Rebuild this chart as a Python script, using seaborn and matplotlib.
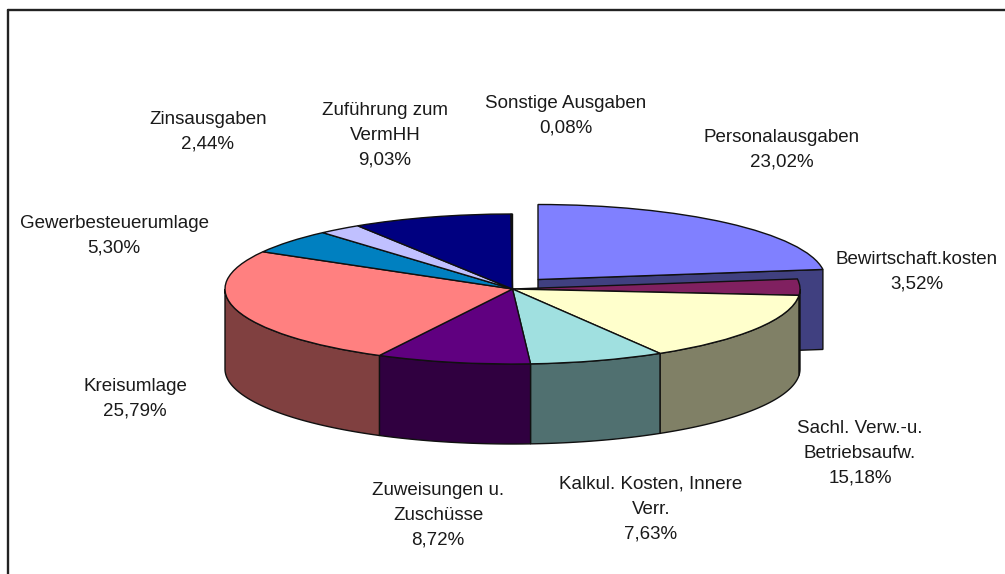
import numpy as np
import matplotlib
matplotlib.use("Agg")
import matplotlib.pyplot as plt
from matplotlib.lines import Line2D
from matplotlib.patches import Polygon
import seaborn as sns

categories = ["Personalausgaben", "Bewirtschaft.kosten", "Sachl. Verw.-u.\nBetriebsaufw.",
              "Kalkul. Kosten, Innere\nVerr.", "Zuweisungen u.\nZuschüsse", "Kreisumlage",
              "Gewerbesteuerumlage", "Zinsausgaben", "Zuführung zum\nVermHH", "Sonstige Ausgaben"]
shares = [23.02, 3.52, 15.18, 7.63, 8.72, 25.79, 5.30, 2.44, 9.03, 0.08]
share_text = ["23,02%", "3,52%", "15,18%", "7,63%", "8,72%", "25,79%", "5,30%", "2,44%", "9,03%", "0,08%"]
colors = ["#8080FF", "#802060", "#FFFFCC", "#A0E0E0", "#600080", "#FF8080",
          "#0080C0", "#C0C0FF", "#000080", "#FF00FF"]
# label block centres in pixels
label_x = [782, 917, 860, 651, 438, 135, 114, 208, 385, 566]
label_y = [150, 272, 453, 509, 515, 399, 236, 132, 135, 116]

W, H = 1005, 574
CX, CY, RX, RY, DEPTH = 512.5, 289, 287.5, 75, 80
SHIFT_X, SHIFT_Y = 25.5, 9.5  # pull-out of the first slice, pixels

sns.set_theme(style="white")
plt.rcParams["font.family"] = ["Liberation Sans", "DejaVu Sans"]
palette = sns.color_palette(colors)
dark = [tuple(0.5 * c for c in col) for col in palette]

fig = plt.figure(figsize=(W / 100, H / 100), dpi=100, facecolor="white")
ax = fig.add_axes([0, 0, 1, 1])
EDGE = dict(edgecolor="#101010", linewidth=1.0)
wedges, _ = ax.pie(shares, colors=palette, startangle=90, counterclock=False,
                   frame=True, wedgeprops=dict(zorder=3, **EDGE))
ax.set_aspect("auto")
ax.set_xlim(-CX / RX, (W - CX) / RX)
ax.set_ylim((CY - H) / RY, CY / RY)
ax.axis("off")

d = DEPTH / RY
sx, sy = SHIFT_X / RX, SHIFT_Y / RY
wedges[0].set_center((sx, sy))
cum = np.cumsum([0] + shares) / sum(shares) * 2 * np.pi

# cut face of the pulled-out slice
end = cum[1]
ex, ey = np.sin(end) + sx, np.cos(end) + sy
ax.add_patch(Polygon([(sx, sy), (ex, ey), (ex, ey - d), (sx, sy - d)], closed=True,
                     facecolor=dark[0], zorder=1, **EDGE))

# outer walls of the front slices
for i in range(1, len(shares)):
    a, b = max(cum[i], np.pi / 2), min(cum[i + 1], 3 * np.pi / 2)
    if b <= a:
        continue
    t = np.linspace(a, b, 80)
    top = np.column_stack([np.sin(t), np.cos(t)])
    bottom = (top - [0, d])[::-1]
    ax.add_patch(Polygon(np.vstack([top, bottom]), closed=True,
                         facecolor=dark[i], zorder=2, **EDGE))

for cat, pct, x, y in zip(categories, share_text, label_x, label_y):
    fig.text(x / W, 1 - y / H, f"{cat}\n{pct}", ha="center", va="center",
             multialignment="center", fontsize=13.5, color="#1a1a1a", linespacing=1.58)

# chart frame
frame_col = "#222222"
fig.add_artist(Line2D([8 / W, 8 / W], [0, 1 - 10 / H], color=frame_col, lw=1.7))
fig.add_artist(Line2D([8 / W, 1], [1 - 10 / H, 1 - 10 / H], color=frame_col, lw=1.7))

fig.savefig("out.png", dpi=100)
